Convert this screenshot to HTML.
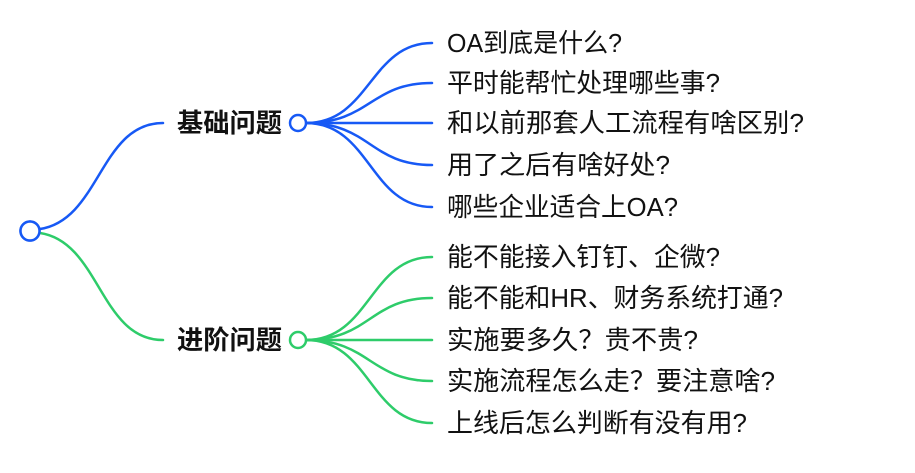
<!DOCTYPE html>
<html><head><meta charset="utf-8"><style>
html,body{margin:0;padding:0;background:#fff;width:915px;height:473px;overflow:hidden}
text{font-family:"Liberation Sans","Noto Sans CJK SC",sans-serif;fill:#111}
</style></head><body>
<svg width="915" height="473" viewBox="0 0 915 473" xmlns="http://www.w3.org/2000/svg">
<g fill="none" stroke-width="2.5" stroke-linecap="round">
<g stroke="#1759f5">
<path d="M40,229 C100,220 100,123 163,123"/>
<path d="M306,123 C370,123 370,43 432,43"/>
<path d="M306,123 C370,123 370,83 432,83"/>
<path d="M306,123 L432,123"/>
<path d="M306,123 C370,123 370,165 432,165"/>
<path d="M306,123 C370,123 370,207 432,207"/>
<circle cx="30" cy="231" r="9.5" fill="#fff"/>
<circle cx="298" cy="123" r="8" fill="#fff"/>
</g>
<g stroke="#2ecc6a">
<path d="M40,233 C100,242 100,340 163,340"/>
<path d="M306,340 C370,340 370,257 432,257"/>
<path d="M306,340 C370,340 370,298 432,298"/>
<path d="M306,340 L432,340"/>
<path d="M306,340 C370,340 370,381 432,381"/>
<path d="M306,340 C370,340 370,423 432,423"/>
<circle cx="298" cy="340" r="8" fill="#fff"/>
</g>
<circle cx="30" cy="231" r="9.5" fill="#fff" stroke="#1759f5"/>
</g>
<g font-size="26" font-weight="bold">
<text x="177" y="132" textLength="105" lengthAdjust="spacingAndGlyphs">基础问题</text>
<text x="177" y="349" textLength="105" lengthAdjust="spacingAndGlyphs">进阶问题</text>
</g>
<g font-size="26" lengthAdjust="spacingAndGlyphs">
<text x="447" y="52" textLength="175" lengthAdjust="spacingAndGlyphs">OA到底是什么?</text>
<text x="447" y="92" textLength="273" lengthAdjust="spacingAndGlyphs">平时能帮忙处理哪些事?</text>
<text x="447" y="132" textLength="357" lengthAdjust="spacingAndGlyphs">和以前那套人工流程有啥区别?</text>
<text x="447" y="174" textLength="223" lengthAdjust="spacingAndGlyphs">用了之后有啥好处?</text>
<text x="447" y="216" textLength="231" lengthAdjust="spacingAndGlyphs">哪些企业适合上OA?</text>
<text x="447" y="266" textLength="273" lengthAdjust="spacingAndGlyphs">能不能接入钉钉、企微?</text>
<text x="447" y="307" textLength="336" lengthAdjust="spacingAndGlyphs">能不能和HR、财务系统打通?</text>
<text x="447" y="349" textLength="251" lengthAdjust="spacingAndGlyphs">实施要多久？贵不贵?</text>
<text x="447" y="390" textLength="328" lengthAdjust="spacingAndGlyphs">实施流程怎么走？要注意啥?</text>
<text x="447" y="432" textLength="300" lengthAdjust="spacingAndGlyphs">上线后怎么判断有没有用?</text>
</g>
</svg>
</body></html>
